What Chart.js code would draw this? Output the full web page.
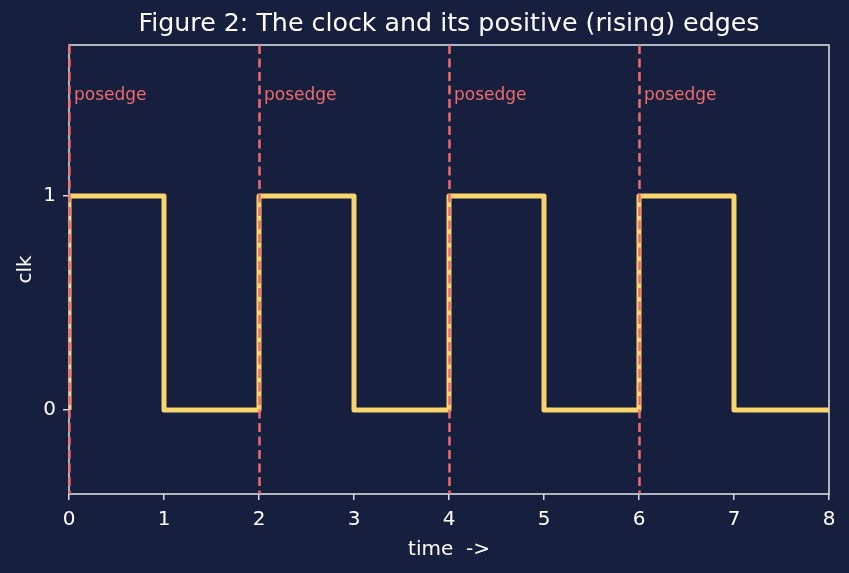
<!DOCTYPE html>
<html>
<head>
<meta charset="utf-8">
<script src="https://cdn.jsdelivr.net/npm/chart.js@4"></script>
<style>
  html, body { margin: 0; padding: 0; background: #161f3d; }
  #wrap { width: 849px; height: 573px; }
</style>
</head>
<body>
<div id="wrap"><canvas id="clkChart" width="849" height="573"></canvas></div>
<script>
// clock samples (step held until next point)
const times = [0, 0, 1, 2, 3, 4, 5, 6, 7, 8];
const clk = [0, 1, 0, 1, 0, 1, 0, 1, 0, 0];
const posedges = [0, 2, 4, 6];
const edgeLabel = 'posedge';
const xTicks = [0, 1, 2, 3, 4, 5, 6, 7, 8];
const yTicks = [0, 1];

const BG = '#161f3d';
const FG = '#ffffff';
const SPINE = '#d6d9e4';
const RED = '#ef6b6e';
const FONT = 'DejaVu Sans';

const bgAndFrame = {
  id: 'bgAndFrame',
  beforeDraw(chart) {
    const c = chart.ctx;
    const a = chart.chartArea;
    c.save();
    c.fillStyle = BG;
    c.fillRect(0, 0, chart.width, chart.height);
    // title
    c.fillStyle = FG;
    c.font = '25.3px "' + FONT + '"';
    c.textAlign = 'center';
    c.textBaseline = 'middle';
    c.fillText('Figure 2: The clock and its positive (rising) edges', (a.left + a.right) / 2, 24);
    c.restore();
  },
  beforeDatasetsDraw(chart) {
    const c = chart.ctx;
    const a = chart.chartArea;
    c.save();
    c.strokeStyle = SPINE;
    c.lineWidth = 1.6;
    c.strokeRect(a.left, a.top, a.right - a.left, a.bottom - a.top);
    c.restore();
  },
  afterDatasetsDraw(chart) {
    const c = chart.ctx;
    const a = chart.chartArea;
    const xs = chart.scales.x, ys = chart.scales.y;
    c.save();
    c.strokeStyle = RED;
    c.lineWidth = 2.5;
    c.setLineDash([9, 4.5]);
    posedges.forEach(function (t) {
      const px = xs.getPixelForValue(t) + 0.5;
      c.beginPath();
      c.moveTo(px, a.top);
      c.lineTo(px, a.bottom);
      c.stroke();
    });
    c.setLineDash([]);
    c.fillStyle = RED;
    c.font = '17px "' + FONT + '"';
    c.textAlign = 'left';
    c.textBaseline = 'middle';
    posedges.forEach(function (t) {
      c.fillText(edgeLabel, xs.getPixelForValue(t) + 5, ys.getPixelForValue(1.47));
    });
    c.restore();
  }
};

const ctx = document.getElementById('clkChart').getContext('2d');
new Chart(ctx, {
  type: 'line',
  data: {
    datasets: [{
      label: 'clk',
      data: times.map((t, i) => ({ x: t, y: clk[i] })),
      stepped: 'before',
      borderColor: '#f9d56e',
      borderWidth: 5,
      borderJoinStyle: 'round',
      pointRadius: 0,
      fill: false
    }]
  },
  options: {
    responsive: false,
    animation: false,
    events: [],
    layout: { padding: { top: 45, right: 20, left: 0, bottom: 0 } },
    plugins: {
      legend: { display: false },
      title: { display: false },
      tooltip: { enabled: false }
    },
    scales: {
      x: {
        type: 'linear',
        min: 0,
        max: 8,
        afterFit(s) { s.height = 79; },
        afterBuildTicks(s) { s.ticks = xTicks.map(v => ({ value: v })); },
        grid: { drawOnChartArea: false, drawTicks: true, tickLength: 6, color: SPINE, lineWidth: 1.5 },
        border: { display: false },
        ticks: { color: FG, font: { family: FONT, size: 20 }, padding: 8 },
        title: { display: true, text: 'time  ->', color: FG, font: { family: FONT, size: 20 }, padding: { top: 0, bottom: 11 } }
      },
      y: {
        min: -0.393,
        max: 1.705,
        afterFit(s) { s.width = 69; },
        afterBuildTicks(s) { s.ticks = yTicks.map(v => ({ value: v })); },
        grid: { drawOnChartArea: false, drawTicks: true, tickLength: 6, color: SPINE, lineWidth: 1.5 },
        border: { display: false },
        ticks: { color: FG, font: { family: FONT, size: 20 }, padding: 7 },
        title: { display: true, text: 'clk', color: FG, font: { family: FONT, size: 20 }, padding: { top: 14, bottom: 0 } }
      }
    }
  },
  plugins: [bgAndFrame]
});
</script>
</body>
</html>
